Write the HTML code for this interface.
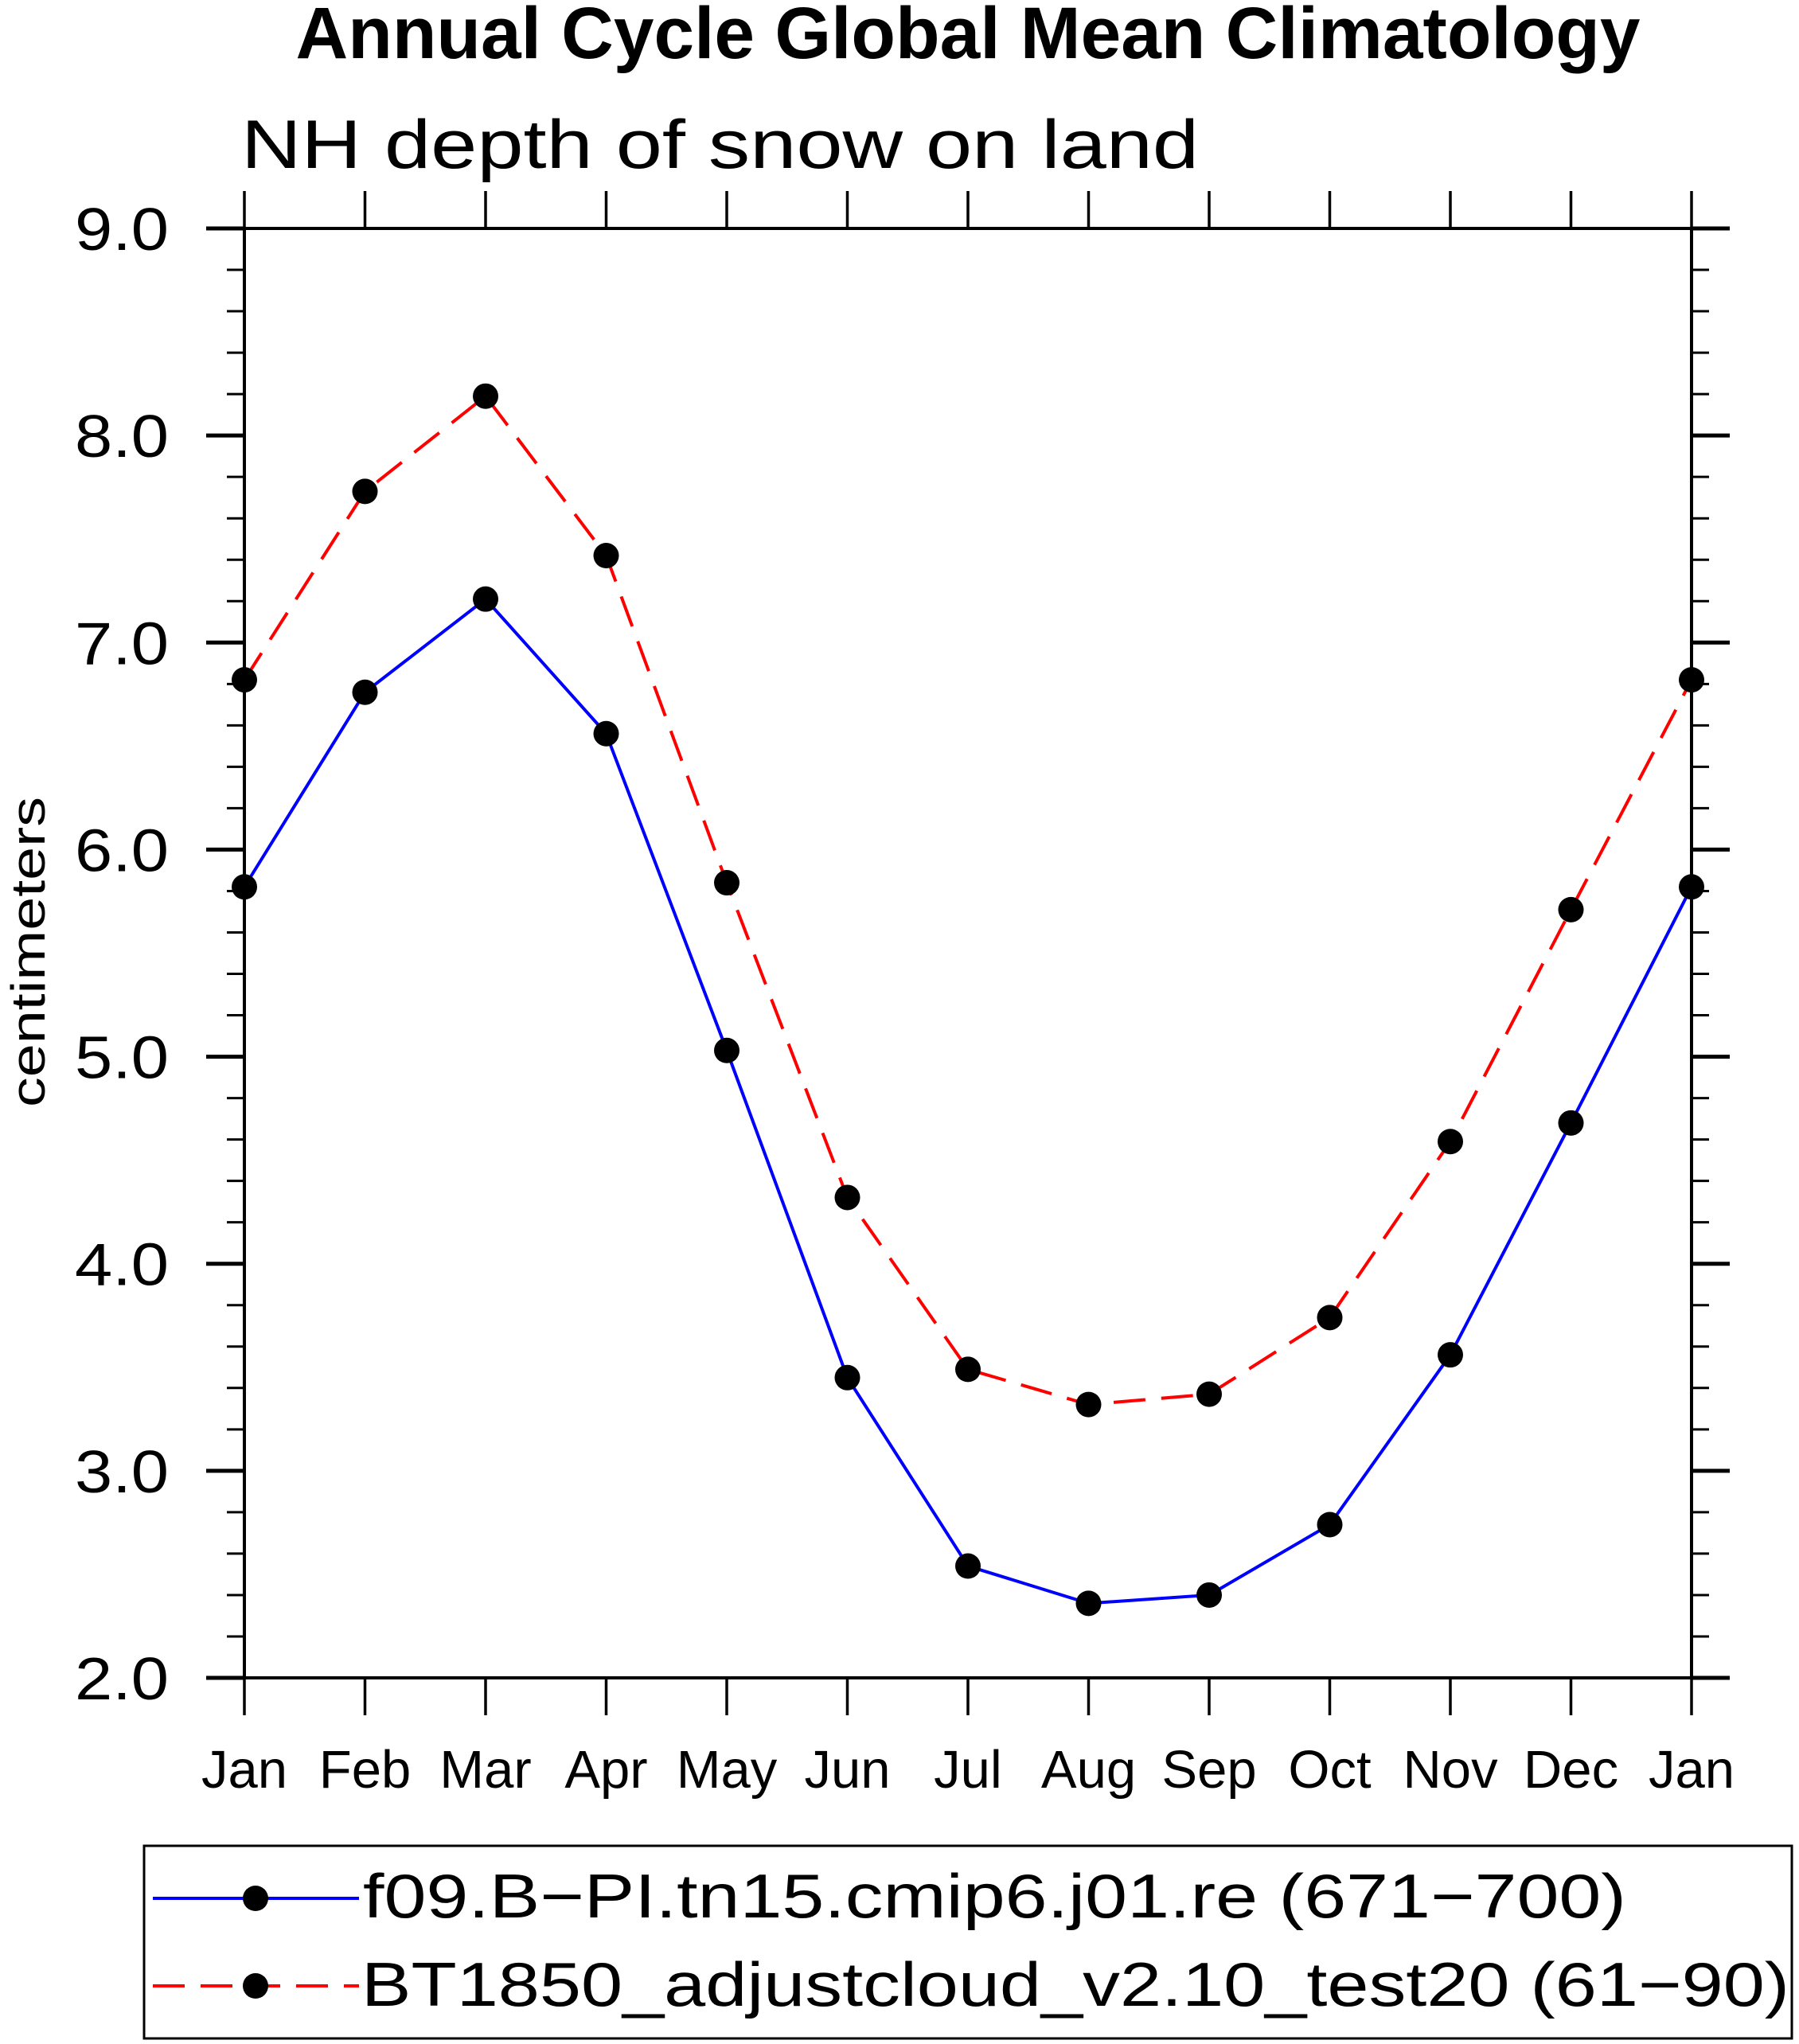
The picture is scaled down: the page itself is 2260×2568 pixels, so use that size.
<!DOCTYPE html>
<html><head><meta charset="utf-8"><style>
html,body{margin:0;padding:0;background:#fff;}
svg{display:block;font-family:"Liberation Sans",sans-serif;}
</style></head><body>
<svg id="chart" width="2260" height="2568" viewBox="0 0 2260 2568" xmlns="http://www.w3.org/2000/svg">
<rect width="2260" height="2568" fill="#fff"/>
<text x="1216" y="73" text-anchor="middle" font-weight="bold" font-size="92" textLength="1689" lengthAdjust="spacingAndGlyphs">Annual Cycle Global Mean Climatology</text>
<text x="303" y="211" font-size="86" textLength="1203" lengthAdjust="spacingAndGlyphs">NH depth of snow on land</text>
<text transform="translate(56,1196) rotate(-90)" text-anchor="middle" font-size="60" textLength="390" lengthAdjust="spacingAndGlyphs">centimeters</text>
<g id="axes"></g>
<g id="series"></g>
<g>
<rect x="181" y="2319" width="2070" height="242" fill="none" stroke="#000" stroke-width="3"/>
<g>
<line x1="192" y1="2385" x2="451" y2="2385" stroke="#0000ff" stroke-width="4"/>
<circle cx="321" cy="2385" r="16" fill="#000"/>
<text x="456" y="2409" font-size="78" textLength="1587" lengthAdjust="spacingAndGlyphs">f09.B−PI.tn15.cmip6.j01.re (671−700)</text>
</g>
<g>
<line x1="192" y1="2495" x2="451" y2="2495" stroke="#ff0000" stroke-width="4" stroke-dasharray="40 20"/>
<circle cx="321" cy="2495" r="16" fill="#000"/>
<text x="454" y="2520" font-size="78" textLength="1794" lengthAdjust="spacingAndGlyphs">BT1850_adjustcloud_v2.10_test20 (61−90)</text>
</g>
</g>
</svg>
<script>
const months = ["Jan","Feb","Mar","Apr","May","Jun","Jul","Aug","Sep","Oct","Nov","Dec","Jan"];
const seriesBlue = [5.82,6.76,7.21,6.56,5.03,3.45,2.54,2.36,2.40,2.74,3.56,4.68,5.82];
const seriesRed = [6.82,7.73,8.19,7.42,5.84,4.32,3.49,3.32,3.37,3.74,4.59,5.71,6.82];
const yTickLabels = ["2.0","3.0","4.0","5.0","6.0","7.0","8.0","9.0"];
const yMin = 2, yMax = 9;

const L=307,R=2125,T=287,B=2108;
const NS="http://www.w3.org/2000/svg";
function xs(i){return L+(R-L)*i/(months.length-1);}
function ys(v){return B-(B-T)*(v-yMin)/(yMax-yMin);}
function mk(tag,attrs,parent){const e=document.createElementNS(NS,tag);for(const k in attrs)e.setAttribute(k,attrs[k]);parent.appendChild(e);return e;}
const ax=document.getElementById('axes');
let frame=mk('rect',{x:L,y:T,width:R-L,height:B-T,fill:'none',stroke:'#000','stroke-width':4},ax);


months.forEach((m,i)=>{
  const x=xs(i);
  let t1=mk('line',{x1:x,y1:T-47,x2:x,y2:T,stroke:'#000','stroke-width':3.5},ax);
  
  
  let t2=mk('line',{x1:x,y1:B,x2:x,y2:B+47,stroke:'#000','stroke-width':3.5},ax);
  
  
  let lb=mk('text',{x:x,y:2246,'text-anchor':'middle','font-size':67},ax);
  lb.textContent=m;
  
  
});
for(let k=0;k<=(yMax-yMin)*5;k++){
  const v=yMin+k*0.2, y=ys(v), major=(k%5===0);
  const len=major?48:22, w=major?5:3;
  let a=mk('line',{x1:L-len,y1:y,x2:L,y2:y,stroke:'#000','stroke-width':w},ax);
  
  
  let b=mk('line',{x1:R,y1:y,x2:R+len,y2:y,stroke:'#000','stroke-width':w},ax);
  
  
}
yTickLabels.forEach(s=>{
  const v=parseFloat(s);
  let lb=mk('text',{x:212,y:ys(v)+27,'text-anchor':'end','font-size':75,textLength:118,lengthAdjust:'spacingAndGlyphs'},ax);
  lb.textContent=s;
  
  
});
const sg=document.getElementById('series');
function drawSeries(vals,color,dash,name){
  const pts=vals.map((v,i)=>xs(i)+','+ys(v)).join(' ');
  const attrs={points:pts,fill:'none',stroke:color,'stroke-width':4};
  if(dash)attrs['stroke-dasharray']=dash;
  let pl=mk('polyline',attrs,sg);
  
  
  vals.forEach((v,i)=>{
    let c=mk('circle',{cx:xs(i),cy:ys(v),r:16,fill:'#000'},sg);
    
    
  });
}
drawSeries(seriesRed,'#ff0000','40 20','series-bt1850');
drawSeries(seriesBlue,'#0000ff',null,'series-f09');
</script>
</body></html>
